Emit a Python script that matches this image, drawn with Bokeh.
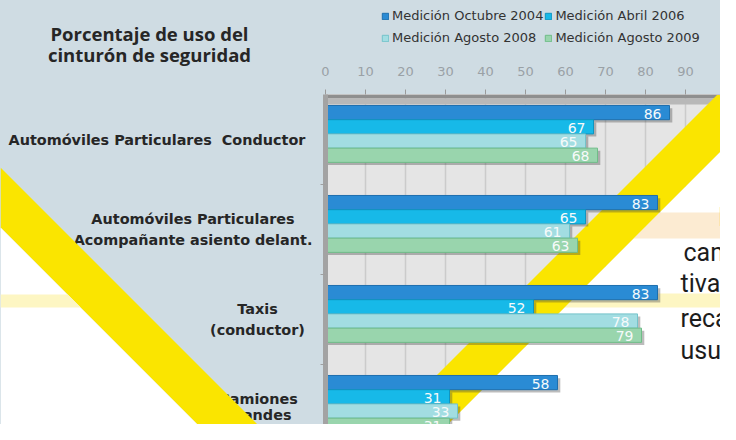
from bokeh.plotting import figure
from bokeh.layouts import row, column
from bokeh.models import (Range1d, FixedTicker, Label, PolyAnnotation, BoxAnnotation,
                          Legend, LegendItem, ColumnDataSource)
from bokeh.embed import file_html
from bokeh.resources import INLINE
from bokeh.core.properties import value

# ---------------- data ----------------
categories = [
    "Automóviles Particulares\u00a0 Conductor",
    "Automóviles Particulares\nAcompañante asiento delant.",
    "Taxis\n(conductor)",
    "Camiones\ngrandes\n(conductor)",
]
series_names = ["Medición Octubre 2004", "Medición Abril 2006",
                "Medición Agosto 2008", "Medición Agosto 2009"]
oct_2004 = [86, 83, 83, 58]
abr_2006 = [67, 65, 52, 31]
ago_2008 = [65, 61, 78, 33]
ago_2009 = [68, 63, 79, 31]
x_ticks = [0, 10, 20, 30, 40, 50, 60, 70, 80, 90, 100]
title_lines = ["Porcentaje de uso del", "cinturón de seguridad"]
side_text = ["ha", "camp", "tiva c", "recab", "usuar"]

series = [oct_2004, abr_2006, ago_2008, ago_2009]
fills = ["#2a8bd4", "#17b9e8", "#a2dde2", "#99d5ad"]
lines = ["#1d6fae", "#0f95c0", "#74c3ca", "#6fbd88"]

BG = "#cfdce3"
YELLOW = "#fae500"
W, H = 720, 424
LEFT_W = 315          # width of the label panel
TOP_H = 52            # height of the legend strip
FRAME_TOP = 94        # page y of the top of the plot area
PX_PER_CAT = 90.0
PX_PER_UNIT = 4.0

y_top = -0.5
y_bot = y_top + (H - FRAME_TOP) / PX_PER_CAT


def poly(xs, ys, color, level, dx=0, dy=0):
    return PolyAnnotation(xs=[x - dx for x in xs], ys=[y - dy for y in ys],
                          xs_units="canvas", ys_units="canvas",
                          fill_color=color, fill_alpha=1, line_color=None, level=level)


# ---------------- left panel: title + category labels ----------------
c_fig = figure(width=LEFT_W, height=H, output_backend="svg", toolbar_location=None,
               x_range=Range1d(0, LEFT_W),
               y_range=Range1d(y_bot, y_top - FRAME_TOP / PX_PER_CAT),
               x_axis_location=None, y_axis_location=None,
               min_border=0, background_fill_color=BG, border_fill_color=BG,
               outline_line_color=None)
c_fig.grid.visible = False

cat_x = [156.5, 192.5, 257, 258]
cat_lh = [1.32, 1.32, 1.32, 1.0]
cat_dy = [0, 0, 0, 5]
for i, c in enumerate(categories):
    c_fig.text(x=[cat_x[i]], y=[i], text=[c], text_align="center", text_baseline="middle",
               y_offset=cat_dy[i],
               text_font=value("DejaVu Sans"), text_font_style="bold",
               text_font_size="14.4px", text_color="#262626", text_line_height=cat_lh[i])

for k, t in enumerate(title_lines):
    c_fig.add_layout(Label(x=149, y=33 + 21 * k, x_units="canvas", y_units="canvas", text=t,
                           text_align="center", text_baseline="alphabetic",
                           text_font="Open Sans", text_font_style="bold",
                           text_font_size="18.5px", text_color="#262626"))

# page decorations on the left (they cover the labels)
c_fig.add_layout(poly([0, 257, 197, 0], [167, 424, 424, 227], YELLOW, "annotation"))
c_fig.add_layout(poly([0, 197, 0], [227, 424, 424], "#ffffff", "annotation"))
c_fig.add_layout(poly([0, 67, 80, 0], [294, 294, 307, 307], "#fdf6c3", "annotation"))

# ---------------- legend strip ----------------
l_fig = figure(width=W - LEFT_W, height=TOP_H, output_backend="svg", toolbar_location=None,
               x_range=Range1d(0, 1), y_range=Range1d(0, 1),
               x_axis_location=None, y_axis_location=None,
               min_border=0, background_fill_color=BG, border_fill_color=BG,
               outline_line_color=None)
l_fig.grid.visible = False
keys = []
for j in range(4):
    # legend keys only: kept outside the visible range of this strip
    keys.append(l_fig.hbar(y=[-5], left=[0], right=[1], height=0.1,
                           fill_color=fills[j], line_color=lines[j]))
legend = Legend(items=[LegendItem(label=series_names[j], renderers=[keys[j]]) for j in range(4)],
                location=(56, 4), orientation="horizontal", ncols=2,
                glyph_width=8, glyph_height=8, label_height=21, label_standoff=3, spacing=1,
                padding=0, margin=0, background_fill_alpha=0, border_line_color=None,
                label_text_font="DejaVu Sans", label_text_font_size="13px",
                label_text_color="#333333")
l_fig.add_layout(legend)

# ---------------- main chart ----------------
D_X, D_Y = LEFT_W, TOP_H
frame_left = 325
p = figure(width=W - LEFT_W, height=H - TOP_H, output_backend="svg", toolbar_location=None,
           x_range=Range1d(0, (W - frame_left) / PX_PER_UNIT), y_range=Range1d(y_bot, y_top),
           x_axis_location="above",
           min_border_left=frame_left - LEFT_W, min_border_right=0,
           min_border_top=FRAME_TOP - TOP_H, min_border_bottom=0,
           background_fill_color="#e5e5e5", border_fill_color=BG,
           outline_line_color=None)

p.xaxis.ticker = FixedTicker(ticks=x_ticks)
p.xaxis.major_label_text_font = "DejaVu Sans"
p.xaxis.major_label_text_font_size = "13px"
p.xaxis.major_label_text_color = "#9aa1a6"
p.xaxis.major_label_standoff = 14
p.xaxis.major_tick_out = 5
p.xaxis.major_tick_in = 0
p.xaxis.major_tick_line_color = "#9a9a9a"
p.xaxis.minor_tick_line_color = None
p.xaxis.axis_line_color = "#c4c4c4"

p.yaxis.ticker = FixedTicker(ticks=[], minor_ticks=[0.5, 1.5, 2.5])
p.yaxis.major_label_standoff = 0
p.yaxis.major_tick_out = 0
p.yaxis.minor_tick_out = 5
p.yaxis.minor_tick_in = 0
p.yaxis.minor_tick_line_color = "#a0a0a0"
p.yaxis.major_tick_line_color = None
p.yaxis.axis_line_width = 5
p.yaxis.axis_line_color = "#a3a3a3"

p.xgrid.ticker = FixedTicker(ticks=x_ticks)
p.xgrid.grid_line_color = "#cbcbcb"
p.xgrid.grid_line_width = 1.5
p.ygrid.grid_line_color = None

# 3D floor band along the top of the plot area
p.add_layout(BoxAnnotation(top=y_top, bottom=y_top + 4 / PX_PER_CAT,
                           fill_color="#8f8f8f", fill_alpha=1, line_color=None, level="underlay"))
p.add_layout(BoxAnnotation(top=y_top + 4 / PX_PER_CAT, bottom=y_top + 10 / PX_PER_CAT,
                           fill_color="#b8b8b8", fill_alpha=1, line_color=None, level="underlay"))

# page decorations on the right (behind the bars)
p.add_layout(poly([720, 720, 447], [151, 424, 424], "#ffffff", "underlay", D_X, D_Y))
p.add_layout(poly([659, 720, 720, 633], [212, 212, 238, 238], "#fcebd2", "underlay", D_X, D_Y))
p.add_layout(poly([578, 720, 720, 564], [293, 293, 307, 307], "#fdf6c3", "underlay", D_X, D_Y))
p.add_layout(poly([720, 720, 447, 387], [91, 151, 424, 424], YELLOW, "underlay", D_X, D_Y))

# bars
n = len(categories)
bar_h = 0.158
for j, vals in enumerate(series):
    ys = [i - 0.062 + (j - 1.5) * bar_h for i in range(n)]
    src = ColumnDataSource(dict(y=ys, v=vals, lab=[str(v) for v in vals],
                                ys=[y + 0.03 for y in ys], vs=[v + 0.7 for v in vals]))
    p.hbar(y="ys", left=0, right="vs", height=bar_h, source=src,
           fill_color="#404040", fill_alpha=0.35, line_color=None)
    p.hbar(y="y", left=0, right="v", height=bar_h, source=src,
           fill_color=fills[j], line_color=lines[j], line_width=1)
    p.text(x="v", y="y", text="lab", source=src, x_offset=-8, y_offset=1,
           text_align="right", text_baseline="middle", text_font=value("DejaVu Sans"),
           text_font_size="14px", text_color="#f6fafa")

# text fragments of the page on the right
side_x = [718, 683, 680, 680, 680]
side_y = [217, 252, 283, 318, 350]
for k, t in enumerate(side_text):
    p.add_layout(Label(x=side_x[k] - D_X, y=side_y[k] - D_Y, x_units="canvas", y_units="canvas",
                       text=t, text_align="left", text_baseline="alphabetic",
                       text_font="Roboto", text_font_size="25px", text_color="#1c1c1c"))

right_col = column(l_fig, p)
right_col.styles = {"background-color": BG}
layout = row(c_fig, right_col)
layout.styles = {"background-color": BG}
open("out.html", "w").write(file_html(layout, INLINE))
